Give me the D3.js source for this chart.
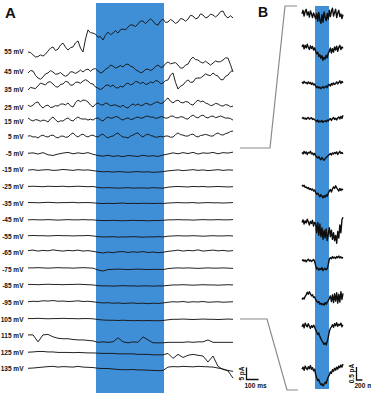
<!DOCTYPE html>
<html><head><meta charset="utf-8">
<script src="https://cdn.jsdelivr.net/npm/d3@7"></script>
<style>body{margin:0;background:#fff}svg{display:block}</style>
</head><body>
<svg id="chart" width="371" height="395"></svg>
<script>
// ---------- DATA ----------
// Panel A: holding potentials and current traces (pA, relative to label baseline), sampled over 1700 ms
const voltagesA = [55,45,35,25,15,5,-5,-15,-25,-35,-45,-55,-65,-75,-85,-95,-105,-115,-125,-135];
const labelsA = ["55 mV","45 mV","35 mV","25 mV","15 mV","5 mV","-5 mV","-15 mV","-25 mV","-35 mV","-45 mV","-55 mV","-65 mV","-75 mV","-85 mV","-95 mV","105 mV","115 mV","125 mV","135 mV"];
const durationA = 1700;
const stimA = [564, 1128];

const traceA_55 = [0,-0.2,-1.2,-2.1,-1.9,-1.2,-1.7,-0.9,0.4,1.6,2.1,0.6,1.2,2.9,3.7,2.0,0.8,1.8,2.1,3.8,4.6,1.6,0,5.4,9.2,8.0,7.9,7.4,6.2,6.4,5,7.0,8.3,7.2,7.9,8.9,7.9,9.3,9.6,9.2,10.4,11.3,11.2,10.6,11.7,12.9,12.9,11.8,12.9,13.8,12.9,11.6,11.2,12.9,13.7,12.3,12.5,13.6,12.9,11.9,12.5,13.9,13.7,12.8,13.7,15.3,15,13.8,14.2,15.9,15.4,14.2,14.6,15.8,15.4,14.6,15.4,16.8,17.1,15.0,14.2,15.1,14.2];
const traceA_45 = [-0.4,0.6,0.4,-1.4,-2.5,-3.0,-2.1,-0.8,-0.4,0.6,0,-0.9,-0.8,-0.2,-1.2,-1.8,-1.2,0.1,0,-0.6,0,0.8,0,0.9,1.2,0.3,1.2,1.4,0.4,-0.4,0,1.2,1.7,2.9,2.5,1.6,2.1,2.7,2.1,3.1,3.3,2.4,2.1,1.0,0.4,-0.3,0,1.1,1.2,0.6,1.2,2.3,2.9,2.0,2.1,3.5,4.2,3.4,3.7,3.9,2.9,1.6,1.7,2.9,3.3,5.2,6.2,5.2,5,4.2,3.7,4.5,3.7,2.9,3.7,4.6,4.2,4.3,5,5.9,5.8,3.0,0];
const traceA_35 = [0,1.1,0.8,0.6,1.7,2.9,2.5,2.1,3.3,3.4,2.5,1.4,1.2,2.3,2.5,3.6,3.3,2.0,2.1,3.2,3.3,2.8,3.7,4.3,3.7,2.7,2.5,1.2,0.8,0.2,0.8,1.9,2.1,1.4,2.1,1.0,0.8,1.6,1.2,2.4,2.9,2.1,2.5,3.6,3.3,2.6,3.3,2.4,2.5,3.4,2.9,3.9,3.7,2.6,2.9,3.9,4.2,6.2,7.1,3.2,0.4,1.6,2.1,3.4,4.2,3.2,3.3,4.8,5,5.0,5.8,6.7,6.2,6.0,7.1,6.2,5.8,4.4,4.2,5.7,6.2,7.6,8.3];
const traceA_25 = [1.2,0.6,1.2,2.2,2.5,0.9,0,0.9,1.2,0.2,0.4,1.0,0.8,1.6,1.7,1.3,2.1,0.9,0.4,2.2,3.3,2.6,3.3,3.2,2.5,1.2,0.4,1.6,2.1,1.4,1.2,2.1,1.7,0.9,1.2,1.3,0.8,0.4,1.2,0.3,0,1.1,1.7,1.1,1.7,1.0,1.2,2.0,1.7,1.2,1.7,2.4,2.5,1.8,2.1,3.3,4.2,2.8,2.1,2.9,3.3,2.4,2.1,2.7,2.5,1.6,1.2,2.4,3.3,2.6,2.9,2.1,1.7,1.0,1.2,1.9,1.7,1.0,0.8,1.4,1.2,0.5,0.8];
const traceA_15 = [1.7,0.9,0.4,1.0,0.8,0.3,0.8,0.6,0,1.3,2.1,0.9,0,0.5,0.4,1.2,1.7,0.8,0.4,1.4,2.1,1.4,1.2,1.3,0.8,1.2,0.8,1.5,1.7,0.9,0.4,1.5,2.1,1.6,1.7,2.3,2.1,1.3,0.8,1.4,1.7,1.1,1.2,1.8,2.1,1.6,1.7,2.3,2.5,2.0,2.1,1.5,1.7,2.2,2.1,1.6,1.7,2.4,2.5,1.8,1.7,2.2,2.1,1.4,1.2,2.3,2.9,2.1,1.7,2.5,2.9,2.0,1.7,2.3,2.5,1.8,2.1,2.5,2.1,1.6,1.7,1.4,0.8];
const traceA_5 = [0.4,0.5,0,0.1,-0.4,0.4,0.8,0.2,0,0.6,0.8,0.0,-0.4,0.3,0.4,-0.1,0,1.0,1.7,0.6,0,0.8,1.2,0.4,0,0.6,0.8,0.2,0,0.8,1.2,0.2,-0.4,0.2,0.4,1.2,1.7,0.6,0,-0.1,-0.4,0.4,0.8,1.4,1.7,0.6,0,0.8,1.2,0.6,0.4,-0.1,0,0.3,0,0.4,0.4,-0.1,0,1.0,1.7,1.0,0.8,0.4,0.4,1.0,1.2,0.4,0,0.6,0.8,1.1,0.8,0.4,0.4,1.2,1.7,1.0,0.8,1.4,1.7,2.3,2.5];
const traceA_m5 = [0.1,0.3,-0.2,0.4,-0.5,-0.8,-0.2,0.2,0.5,-0.1,0.3,0.0,0.4,-0.3,-0.8,-1.1,-0.7,-1.2,-0.9,-1.3,-0.8,-1.0,-1.2,-0.7,-1.1,-0.9,-1.2,-0.6,-0.2,0.3,-0.1,0.4,0.0,0.5,-0.2,0.3,0.1,0.5,-0.1,0.4,0.2,0.6];
const traceA_m15 = [0.0,0.2,-0.1,0.1,0.2,-0.1,0.0,0.3,0.1,-0.1,0.2,0.0,0.1,-0.2,-0.5,-0.7,-0.6,-0.8,-0.6,-0.7,-0.9,-0.7,-0.6,-0.8,-0.7,-0.9,-0.8,-0.6,-0.3,-0.1,0.1,-0.2,0.0,0.2,-0.1,0.1,-0.2,0.0,0.2,-0.1,0.1,0.0];
const traceA_m25 = [0.1,0.2,0.1,0.0,0.2,0.1,0.1,0.2,0.0,0.1,0.2,0.1,0.0,0.1,-0.3,-0.5,-0.4,-0.5,-0.6,-0.5,-0.4,-0.6,-0.5,-0.5,-0.6,-0.4,-0.5,-0.6,-0.2,0.0,0.1,0.0,-0.1,0.1,0.0,0.1,-0.1,0.0,0.1,0.0,-0.1,0.0];
const traceA_m35 = [0.3,0.3,0.2,0.3,0.4,0.3,0.2,0.3,0.3,0.4,0.2,0.3,0.3,0.2,0.0,-0.1,0.0,-0.1,0.0,0.1,-0.1,0.0,-0.1,0.0,0.0,-0.1,0.0,-0.1,0.1,0.2,0.3,0.2,0.2,0.3,0.1,0.2,0.3,0.2,0.2,0.1,0.2,0.3];
const traceA_m45 = [0.0,0.1,0.0,0.0,0.1,0.0,-0.1,0.0,0.1,0.0,0.0,0.1,0.0,0.0,-0.2,-0.3,-0.3,-0.2,-0.3,-0.4,-0.3,-0.2,-0.3,-0.3,-0.4,-0.3,-0.3,-0.2,0.0,0.0,0.1,0.0,0.0,-0.1,0.0,0.1,0.0,0.0,0.1,0.0,0.0,0.1];
const traceA_m55 = [0.3,0.4,0.3,0.3,0.2,0.3,0.4,0.3,0.3,0.2,0.3,0.3,0.4,0.2,-0.1,-0.2,-0.2,-0.1,-0.3,-0.2,-0.2,-0.1,-0.2,-0.3,-0.2,-0.2,-0.1,-0.2,0.1,0.2,0.3,0.2,0.2,0.3,0.2,0.1,0.2,0.3,0.2,0.2,0.3,0.2];
const traceA_m65 = [1.0,1.2,0.8,1.1,0.9,1.3,1.0,0.8,1.1,0.9,1.2,0.8,1.0,0.7,0.3,0.0,0.4,0.1,0.5,0.6,0.2,0.5,0.3,0.6,0.2,0.4,0.1,0.3,0.7,0.9,1.2,0.8,1.1,0.9,1.3,0.8,1.0,1.2,0.9,1.1,0.8,1.0];
const traceA_m75 = [0.7,0.7,0.8,0.7,0.6,0.7,0.8,0.7,0.7,0.6,0.7,0.8,0.7,0.6,-0.2,-0.6,0.0,0.1,0.2,0.1,0.0,0.1,0.2,0.1,0.0,0.1,0.1,0.0,0.4,0.6,0.7,0.6,0.7,0.6,0.5,0.6,0.7,0.6,0.6,0.7,0.6,0.5];
const traceA_m85 = [0.7,0.7,0.6,0.7,0.8,0.7,0.7,0.6,0.7,0.7,0.8,0.7,0.6,0.5,0.2,0.1,0.1,0.0,0.1,0.2,0.1,0.1,0.0,0.1,0.1,0.0,0.1,0.1,0.3,0.5,0.5,0.6,0.5,0.4,0.5,0.6,0.5,0.5,0.4,0.5,0.6,0.5];
const traceA_m95 = [0.4,0.6,0.5,0.8,0.7,0.9,0.6,0.7,0.5,0.6,0.8,0.5,0.6,0.4,0.1,-0.1,0.0,-0.2,-0.1,-0.3,-0.2,-0.1,-0.3,-0.2,-0.4,-0.2,-0.3,-0.1,0.2,0.4,0.3,0.5,0.2,0.4,0.3,0.5,0.2,0.3,0.4,0.2,0.3,0.4];
const traceA_m105 = [0.3,0.3,0.4,0.3,0.2,0.3,0.3,0.4,0.3,0.3,0.2,0.3,0.3,0.2,-0.1,-0.3,-0.4,-0.4,-0.5,-0.4,-0.5,-0.6,-0.5,-0.6,-0.5,-0.6,-0.6,-0.5,-0.2,0.0,0.0,0.1,0.0,-0.1,0.0,0.1,0.0,0.0,-0.1,0.0,0.1,0.0];
const traceA_m115 = [0.4,0.4,-2.5,0.4,0.6,-0.4,-1,-1.2,-1.2,-1.5,-1.7,-1.7,-1.9,-2.1,-2.7,-2.5,-2.7,-2.5,-0.8,-2.5,-2.9,-2.5,-2.7,-0.4,-1.7,-2.9,-2.9,-2.9,-2.7,-2.7,-2.7,-2.7,-2.5,-2.7,-2.5,-2.5,-1.7,-2.7,-2.7,-2.7,-2.7,-2.7];
const traceA_m125 = [0.1,0.2,0.4,0.4,0.2,0.2,0,0,0,-0.1,0,-0.1,-0.2,-0.2,-0.3,-0.4,-0.4,-0.4,-0.6,-0.6,-0.6,-0.6,-0.8,-0.8,-0.8,-1,-1,-1,-0.4,-2.5,-0.8,-2.1,-1.2,-0.8,-1.2,-1.5,-4.0,-1.5,-5.8,-7.1,-7.5,-7.9];
const traceA_m135 = [0.3,0.4,0.6,0.8,1,1.1,0.8,1,0.9,0.8,1.1,0.8,0.7,0.6,0.3,0.2,0.2,0,-0.2,-0.3,-0.3,-0.2,-0.4,-0.4,-0.5,-0.6,-0.7,-0.6,0.8,1,0.9,1.1,1,0.9,1.1,1,0.9,0.8,0.4,0,-0.8,-3.8];

const tracesA = [traceA_55,traceA_45,traceA_35,traceA_25,traceA_15,traceA_5,traceA_m5,traceA_m15,traceA_m25,traceA_m35,traceA_m45,traceA_m55,traceA_m65,traceA_m75,traceA_m85,traceA_m95,traceA_m105,traceA_m115,traceA_m125,traceA_m135];

// Panel B: enlarged traces from -5 to -105 mV (pA), sampled over 1400 ms
const voltagesB = [-5,-15,-25,-35,-45,-55,-65,-75,-85,-95,-105];
const durationB = 1400;
const stimB = [444, 922];

const traceB_m5 = [0.05,0.18,-0.04,0.14,0.22,0.0,0.12,-0.08,0.16,0.04,-0.1,0.08,-0.03,-0.15,0.06,-0.24,0.1,-0.2,-0.32,0.02,-0.28,0.12,-0.1,-0.22,0.06,-0.16,0.18,-0.06,0.15,0.26,-0.04,0.1,0.22,-0.1,0.08,0.18,-0.06,0.04,-0.14,0.02];
const traceB_m15 = [0.12,0.2,0.05,0.18,0.08,0.22,0.1,0.02,0.16,0.06,0.14,0.0,0.08,-0.05,-0.15,-0.08,-0.25,-0.18,-0.32,-0.22,-0.4,-0.28,-0.35,-0.2,-0.3,-0.12,-0.05,0.08,-0.12,0.05,-0.08,0.12,0.0,0.15,-0.05,0.1,0.18,0.02,0.12,0.06];
const traceB_m25 = [0.12,0.06,0.14,0.08,0.1,0.04,0.12,0.06,0.1,0.02,0.08,0.0,0.04,-0.04,-0.1,-0.06,-0.12,-0.08,-0.14,-0.1,-0.06,-0.12,-0.08,-0.04,-0.1,0.0,0.02,-0.04,0.06,0.0,0.08,0.02,0.06,0.12,0.04,0.1,0.16,0.06,0.14,0.08];
const traceB_m35 = [0.06,0.1,0.04,0.08,0.02,0.07,0.1,0.03,0.06,0.09,0.02,0.05,0.01,-0.02,-0.06,0.0,-0.08,-0.04,-0.07,-0.02,-0.09,-0.05,-0.03,-0.07,0.0,-0.04,0.02,0.06,-0.02,0.05,0.1,0.02,0.07,0.0,0.08,0.12,0.04,0.14,0.06,0.18];
const traceB_m45 = [0.1,0.04,0.14,0.06,0.12,0.02,0.1,0.08,0.14,0.04,0.08,0.0,0.06,-0.02,-0.08,-0.12,-0.06,-0.14,-0.18,-0.1,-0.16,-0.2,-0.14,-0.1,-0.06,-0.02,0.02,0.06,0.0,0.08,0.04,0.1,0.06,0.12,0.02,0.08,0.14,0.06,0.1,0.04];
const traceB_m55 = [0.2,0.14,0.18,0.1,0.12,0.06,0.1,0.02,0.06,0.0,0.04,-0.04,0.0,-0.1,-0.16,-0.12,-0.2,-0.26,-0.18,-0.24,-0.3,-0.22,-0.28,-0.18,-0.24,-0.12,-0.04,0.02,-0.08,0.04,0.12,0.06,0.16,0.08,0.02,-0.04,0.06,-0.02,0.04,0.0];
const traceB_m65 = [0.1,0.2,0.04,0.16,0.08,0.22,0.12,0.0,0.14,0.06,0.18,-0.04,0.1,0.06,-0.3,0.1,-0.4,0.04,-0.45,-0.1,-0.55,-0.2,-0.5,-0.15,-0.6,-0.35,-0.1,-0.45,-0.2,-0.55,-0.3,-0.6,-0.4,-0.7,-0.25,-0.5,0.0,-0.3,0.2,0.3];
const traceB_m75 = [0.24,0.28,0.22,0.27,0.2,0.26,0.3,0.23,0.27,0.21,0.25,0.29,0.22,0.05,-0.08,-0.04,-0.12,-0.06,-0.1,-0.02,-0.14,-0.08,-0.05,-0.11,-0.06,0.1,0.3,0.36,0.32,0.4,0.34,0.38,0.33,0.4,0.36,0.42,0.35,0.39,0.34,0.37];
const traceB_m85 = [0.0,0.06,0.02,0.12,0.18,0.28,0.2,0.3,0.22,0.14,0.18,0.08,0.1,0.0,-0.06,-0.12,-0.08,-0.18,-0.14,-0.2,-0.16,-0.22,-0.12,-0.18,-0.1,-0.04,0.04,0.14,-0.08,0.18,-0.12,0.22,-0.06,0.26,-0.14,0.2,-0.1,0.3,0.0,0.24];
const traceB_m95 = [0.2,0.3,0.16,0.34,0.26,0.2,0.32,0.22,0.14,0.24,0.18,0.26,0.2,0.08,0.0,-0.1,-0.04,-0.18,-0.26,-0.34,-0.4,-0.48,-0.42,-0.5,-0.36,-0.2,0.02,0.14,0.2,0.28,0.18,0.32,0.24,0.36,0.22,0.3,0.26,0.34,0.2,0.28];
const traceB_m105 = [0.3,0.38,0.26,0.42,0.34,0.28,0.4,0.32,0.44,0.3,0.36,0.24,0.3,0.1,-0.04,-0.14,-0.1,-0.22,-0.3,-0.26,-0.34,-0.28,-0.2,-0.24,-0.1,0.0,0.08,0.2,0.14,0.28,0.22,0.34,0.26,0.38,0.3,0.42,0.36,0.46,0.38,0.5];

const tracesB = [traceB_m5,traceB_m15,traceB_m25,traceB_m35,traceB_m45,traceB_m55,traceB_m65,traceB_m75,traceB_m85,traceB_m95,traceB_m105];

// Scale bars
const scaleBarA = {pA: 5, ms: 100, pALabel: "5 pA", msLabel: "100 ms"};
const scaleBarB = {pA: 0.5, ms: 200, pALabel: "0.5 pA", msLabel: "200 ms"};

// ---------- DRAWING ----------
const svg = d3.select("#chart");
const BLUE = "#3f8fd6";
const INK = "#161616";
const FONT = "'Liberation Sans', Arial, Helvetica, sans-serif";

// Panel A scales
const xA = d3.scaleLinear().domain([0, durationA]).range([28, 233]);
const yBaseA = d3.scaleLinear().domain([55,45,35,25,15,5,-135]).range([52,72,90,108,122,137,369]);
const ampA = d3.scaleLinear().domain([0, 5]).range([0, 12]);

// Panel B scales
const xB = d3.scaleLinear().domain([0, durationB]).range([302, 343]);
const yBaseB = d3.scaleLinear().domain([-5,-65,-75,-95,-105]).range([15,225,267,332,377]);
const ampB = d3.scaleLinear().domain([0, 0.5]).range([0, 13]);

// stimulus bands
svg.append("rect").attr("x", xA(stimA[0])).attr("y", 3)
  .attr("width", xA(stimA[1]) - xA(stimA[0])).attr("height", 390).attr("fill", BLUE);
svg.append("rect").attr("x", xB(stimB[0])).attr("y", 6)
  .attr("width", xB(stimB[1]) - xB(stimB[0])).attr("height", 383).attr("fill", BLUE);

// panel letters
svg.append("text").attr("x", 5).attr("y", 18).text("A")
  .attr("font-family", FONT).attr("font-weight", "bold").attr("font-size", 15).attr("fill", "#111");
svg.append("text").attr("x", 258).attr("y", 17).text("B")
  .attr("font-family", FONT).attr("font-weight", "bold").attr("font-size", 14).attr("fill", "#111");

// Panel A traces
const gA = svg.append("g");
tracesA.forEach((tr, k) => {
  const base = yBaseA(voltagesA[k]);
  const n = tr.length;
  const line = d3.line()
    .x((d, i) => xA(i * durationA / (n - 1)))
    .y(d => base - ampA(d));
  gA.append("path").attr("d", line(tr)).attr("fill", "none")
    .attr("stroke", INK).attr("stroke-width", 0.95).attr("stroke-linejoin", "round");
  gA.append("text").attr("x", 23.5).attr("y", base).attr("dy", "0.35em")
    .attr("text-anchor", "end").text(labelsA[k])
    .attr("font-family", FONT).attr("font-weight", "bold").attr("font-size", 6.5).attr("fill", "#111");
});

// Panel B traces
const gB = svg.append("g");
tracesB.forEach((tr, k) => {
  const base = yBaseB(voltagesB[k]);
  const n = tr.length;
  const line = d3.line()
    .x((d, i) => xB(i * durationB / (n - 1)))
    .y(d => base - ampB(d));
  gB.append("path").attr("d", line(tr)).attr("fill", "none")
    .attr("stroke", "#0e0e0e").attr("stroke-width", 1.4).attr("stroke-linejoin", "round");
});

// connector lines
const conn = d3.line();
svg.append("path").attr("d", conn([[240,148],[270,148],[285,6],[297,6]]))
  .attr("fill", "none").attr("stroke", "#8a8a8a").attr("stroke-width", 1.2);
svg.append("path").attr("d", conn([[240,319],[267,319],[287,390],[298,390]]))
  .attr("fill", "none").attr("stroke", "#8a8a8a").attr("stroke-width", 1.2);

// scale bars
function scaleBar(x0, y0, xs, amp, bar, dxLabel) {
  const g = svg.append("g");
  const h = amp(bar.pA);
  const w = xs(bar.ms) - xs(0);
  g.append("path").attr("d", conn([[x0, y0 - h], [x0, y0], [x0 + w, y0]]))
    .attr("fill", "none").attr("stroke", "#111").attr("stroke-width", 1.3);
  g.append("text").attr("transform", `translate(${x0 + dxLabel},${y0 - h / 2}) rotate(-90)`)
    .attr("text-anchor", "middle").text(bar.pALabel)
    .attr("font-family", FONT).attr("font-weight", "bold").attr("font-size", 6.5).attr("fill", "#111");
  g.append("text").attr("x", x0 - 2).attr("y", y0 + 8).text(bar.msLabel)
    .attr("font-family", FONT).attr("font-weight", "bold").attr("font-size", 6.5).attr("fill", "#111");
}
scaleBar(246.5, 379.5, xA, ampA, scaleBarA, -3);
scaleBar(356.5, 380, xB, ampB, scaleBarB, -3);
</script>
</body></html>
